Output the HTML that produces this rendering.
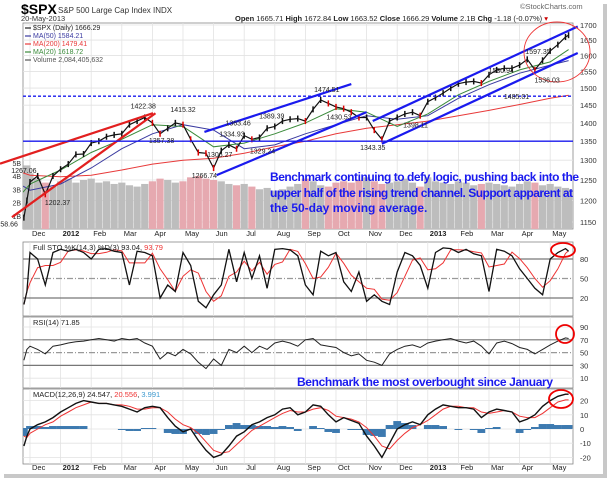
<!DOCTYPE html>
<html><head><meta charset="utf-8"><style>
body{margin:0;background:#fff;}
svg{display:block;font-family:"Liberation Sans",Arial,sans-serif;}
</style></head><body>
<svg id="c" width="609" height="479" viewBox="0 0 609 479" xmlns="http://www.w3.org/2000/svg">
<rect x="0" y="0" width="609" height="479" fill="#fff"/>
<rect x="603" y="4" width="4" height="473" fill="#c8c8c8"/>
<rect x="4" y="474" width="603" height="4" fill="#c8c8c8"/>
<text x="21" y="14" font-size="14" font-weight="bold">$SPX</text>
<text x="58" y="13" font-size="8" fill="#333">S&amp;P 500 Large Cap Index INDX</text>
<text x="21" y="21" font-size="7.5" fill="#333">20-May-2013</text>
<text x="520" y="9" font-size="7.5" fill="#666">©StockCharts.com</text>
<text x="235" y="21" font-size="7.5" fill="#222"><tspan font-weight="bold">Open</tspan> 1665.71 <tspan font-weight="bold">High</tspan> 1672.84 <tspan font-weight="bold">Low</tspan> 1663.52 <tspan font-weight="bold">Close</tspan> 1666.29 <tspan font-weight="bold">Volume</tspan> 2.1B <tspan font-weight="bold">Chg</tspan> -1.18 (-0.07%) <tspan fill="#c00">▾</tspan></text>
<g id="panels"></g>
</svg>
<script>
const tPts=[-0.2,-0.1,0,0.25,0.5,0.75,1,1.25,1.5,1.75,2,2.25,2.5,2.75,3,3.25,3.5,3.75,4,4.25,4.5,4.75,5,5.25,5.5,5.75,6,6.25,6.5,6.75,7,7.25,7.5,7.75,8,8.25,8.5,8.75,9,9.25,9.5,9.75,10,10.25,10.5,10.75,11,11.25,11.5,11.75,12,12.25,12.5,12.75,13,13.25,13.5,13.75,14,14.25,14.5,14.75,15,15.25,15.5,15.75,16,16.25,16.5,16.75,17,17.25,17.5,17.6];
const price=[1160,1200,1245,1260,1215,1260,1277,1290,1315,1316,1345,1350,1362,1367,1370,1395,1405,1415,1400,1370,1385,1400,1395,1355,1320,1318,1280,1325,1340,1330,1365,1355,1360,1385,1390,1405,1410,1412,1405,1438,1465,1455,1445,1440,1430,1415,1415,1380,1355,1405,1415,1425,1430,1420,1460,1472,1485,1500,1513,1518,1520,1515,1540,1555,1560,1560,1570,1588,1555,1585,1615,1635,1660,1666];
const volume=[4.5,4.8,4.2,3.8,3.5,3.2,3.6,3.8,3.5,3.7,3.8,3.5,3.6,3.4,3.5,3.3,3.2,3.4,3.6,3.8,3.7,3.5,3.6,3.9,4.0,3.8,3.7,3.6,3.4,3.3,3.4,3.2,3.0,3.1,2.9,3.0,3.2,3.4,3.8,3.6,3.3,3.2,3.5,3.6,3.5,3.7,3.9,3.6,3.4,3.5,3.6,3.8,3.5,3.2,3.9,3.6,3.5,3.4,3.6,3.5,3.3,3.4,3.5,3.4,3.3,3.2,3.4,3.6,3.5,3.3,3.4,3.2,3.1,3.0];
const maT=[-0.23,0,1,2,3,4,5,6,7,8,9,10,11,12,13,14,15,16,17,17.6];
const ma200=[1268,1262,1258,1262,1275,1290,1300,1305,1318,1335,1350,1370,1385,1395,1405,1420,1435,1452,1470,1479];
const ma50=[1235,1225,1240,1280,1330,1370,1395,1380,1330,1340,1370,1395,1420,1410,1420,1470,1510,1545,1570,1584];
const ma20=[1220,1240,1275,1320,1355,1395,1390,1335,1345,1370,1400,1440,1430,1390,1425,1480,1520,1555,1580,1619];
const stoK=[10,30,90,80,40,90,95,92,95,90,80,95,96,92,90,40,92,90,85,20,40,30,90,70,15,5,25,40,95,45,90,50,85,35,95,96,94,85,40,25,92,85,90,45,30,60,15,25,15,10,60,90,85,70,35,90,97,96,90,95,88,85,30,95,92,85,65,50,35,25,80,90,96,92];
const rsi=[38,55,60,55,48,60,62,65,67,68,70,72,70,68,72,70,72,65,60,40,50,45,55,48,35,25,40,30,55,50,60,50,60,55,65,68,65,60,70,72,62,60,58,50,45,48,38,35,30,48,55,60,62,58,65,68,70,72,68,65,68,60,48,65,68,64,58,55,48,55,62,68,73,72];
const macd=[-12,-5,0,3,5,8,12,15,18,20,19,18,18,17,16,14,12,15,16,15,8,2,-2,0,-8,-15,-20,-18,-12,-5,-2,3,5,8,10,14,15,10,12,17,16,10,5,8,6,4,-5,-12,-20,-10,0,3,5,3,10,14,17,16,15,15,14,8,12,14,13,12,5,7,10,16,20,23,24.5,24.5];
const signal=[-5,-6,-3,0,3,5,9,12,15,17,19,18,18,17,17,16,14,14,15,15,12,7,3,1,-3,-9,-15,-17,-16,-11,-6,-1,2,5,8,11,13,12,12,14,15,13,9,8,7,5,1,-5,-12,-14,-8,-3,1,3,6,10,14,16,16,15,15,12,11,12,13,12,9,8,8,11,15,19,20.5,20.5];
const months=["Dec","2012","Feb","Mar","Apr","May","Jun","Jul","Aug","Sep","Oct","Nov","Dec","2013","Feb","Mar","Apr","May"];
const priceTicks=[1150,1200,1250,1300,1350,1400,1450,1500,1550,1600,1650,1700];
const volTicks=[1,2,3,4,5];
const stoTicks=[20,50,80];
const rsiTicks=[10,30,50,70,90];
const macdTicks=[-20,-10,0,10,20];

const NS="http://www.w3.org/2000/svg";
const root=document.getElementById('panels');
function el(tag,attrs,parent){const e=document.createElementNS(NS,tag);for(const k in attrs)e.setAttribute(k,attrs[k]);(parent||root).appendChild(e);return e;}
const L=23,R=573;
const X=t=>30+t*30.6;
const Yp=p=>25+(Math.log(1700)-Math.log(p))*504;
const Yv=v=>229-v*13.25;
const Ys=v=>311-v*0.65;
const Yr=v=>327+(90-v)*0.64;
const Ym=v=>429-v*1.42;
const panels=[[23,229],[242,316],[317,388],[389,464]];
panels.forEach((p,i)=>{
 const r=el('rect',{x:L,y:p[0],width:R-L,height:p[1]-p[0],fill:'#fff',stroke:'#888','stroke-width':0.8});
 
 
 for(let m=0;m<months.length;m++){
  const g=el('line',{x1:X(m),x2:X(m),y1:p[0],y2:p[1],stroke:'#e2e2e2','stroke-width':0.8});
  
  
 }
});
function clip(id,p){const c=el('clipPath',{id:id});el('rect',{x:L,y:p[0],width:R-L,height:p[1]-p[0]},c);}
clip('cp0',panels[0]);clip('cp1',panels[1]);clip('cp2',panels[2]);clip('cp3',panels[3]);
function hgrid(ticks,Y,fmt,p,strong){ticks.forEach(v=>{
 const g=el('line',{x1:L,x2:R,y1:Y(v),y2:Y(v),stroke:strong&&strong(v)?strong(v):'#e2e2e2','stroke-width':strong&&strong(v)?1.2:0.8,'stroke-dasharray':(strong&&strong(v)==='#999')?'6,2,1,2':'none'});
 
 
 const t=el('text',{x:R+7,y:Y(v)+3,'font-size':7.5,fill:'#333'});t.textContent=fmt(v);
 
 
});}
hgrid(priceTicks,Yp,v=>v,panels[0]);
hgrid(stoTicks,Ys,v=>v,panels[1],v=>v===50?'#999':'#777');
hgrid(rsiTicks,Yr,v=>v,panels[2],v=>v===50?'#999':(v===30||v===70?'#777':null));
hgrid(macdTicks,Ym,v=>v,panels[3]);
volTicks.forEach(v=>{const t=el('text',{x:L-2,y:Yv(v)+3,'font-size':7,fill:'#333','text-anchor':'end'});t.textContent=v+'B';
 
 });
[236,470].forEach(yy=>months.forEach((m,i)=>{const t=el('text',{x:X(i)+2,y:yy,'font-size':7.5,fill:'#222','font-weight':(m.length===4?'bold':'normal')});t.textContent=m;
 
 }));
const g0=el('g',{'clip-path':'url(#cp0)'});
const n=Math.min(tPts.length,price.length,volume.length);
for(let i=0;i<n;i++){
 const down=i>0&&price[i]<price[i-1];
 const b=el('rect',{x:X(tPts[i])-3.6,y:Yv(volume[i]),width:7.2,height:229-Yv(volume[i]),fill:down?'#e6a9b0':'#bdbdbd'},g0);
 
 
}
function line(ts,vs,Y,color,w,parent,name){const pts=ts.map((t,i)=>X(t).toFixed(1)+','+Y(vs[i]).toFixed(1)).join(' ');const l=el('polyline',{points:pts,fill:'none',stroke:color,'stroke-width':w},parent);
 
 return l;}
line(maT,ma200,Yp,'#e83a3a',1,g0,'ma200-line');
line(maT,ma50,Yp,'#3a3aa0',1,g0,'ma50-line');
line(maT,ma20,Yp,'#3a8a3a',1,g0,'ma20-line');
line(tPts.slice(0,n),price.slice(0,n),Yp,'#111',1.2,g0,'price-line');
for(let i=0;i<n;i++){const c=el('line',{x1:X(tPts[i]),x2:X(tPts[i]),y1:Yp(price[i]*1.006),y2:Yp(price[i]*0.994),stroke:(i>0&&price[i]<price[i-1])?'#d00':'#111','stroke-width':1.5},g0);
 
 }
const trend=[[-0.98,1291,4.02,1427,'#e21f1f'],[-0.59,1161,4.1,1427,'#e21f1f'],[5.7,1375,10.5,1512,'#1a1aee'],[6.1,1262,11.0,1430,'#1a1aee'],[11.2,1405,17.9,1695,'#1a1aee'],[11.5,1343,17.9,1608,'#1a1aee']];
trend.forEach(tr=>{const l=el('line',{x1:X(tr[0]),y1:Yp(tr[1]),x2:X(tr[2]),y2:Yp(tr[3]),stroke:tr[4],'stroke-width':2.2});
 
 });
const h1=el('line',{x1:L,x2:R,y1:Yp(1350),y2:Yp(1350),stroke:'#1a1aee','stroke-width':1.3});


const h2=el('line',{x1:L,x2:R,y1:Yp(1476),y2:Yp(1476),stroke:'#1a1aee','stroke-width':1.3,'stroke-dasharray':'3,2'});


const circ=el('ellipse',{cx:557,cy:52,rx:33,ry:30,fill:'none',stroke:'#e33','stroke-width':0.9});


const ann=[[1267.06,-0.2,1267],[1202.37,0.9,1190],[1158.66,-0.8,1140],[1422.38,3.7,1440],[1415.32,5.0,1430],[1357.38,4.3,1345],[1363.46,6.8,1392],[1334.93,6.6,1362],[1306.27,6.2,1308],[1266.74,5.7,1255],[1329.24,7.6,1318],[1389.39,7.9,1412],[1474.51,9.7,1488],[1430.53,10.1,1410],[1343.35,11.2,1327],[1398.11,12.6,1387],[1530.94,15.4,1546],[1485.01,15.9,1468],[1597.35,16.6,1605],[1536.03,16.9,1517]];
ann.forEach(a=>{const t=el('text',{x:X(a[1]),y:Yp(a[2]),'font-size':7,fill:'#222','text-anchor':'middle'});t.textContent=a[0].toFixed(2);
 
 });
const leg=[['$SPX (Daily) 1666.29','#222'],['MA(50) 1584.21','#3a3aa0'],['MA(200) 1479.41','#e83a3a'],['MA(20) 1618.72','#3a8a3a'],['Volume 2,084,405,632','#555']];
leg.forEach((g,i)=>{const t=el('text',{x:33,y:30+i*8,'font-size':7,fill:g[1]});t.textContent=g[0];
 
 
 const s=el('line',{x1:25,x2:31,y1:28+i*8,y2:28+i*8,stroke:g[1],'stroke-width':1.2});
 
 });
const txt=[['Benchmark continuing to defy logic, pushing back into the',181],['upper half of the rising trend channel. Support apparent at',197],['the 50-day moving average.',212]];
txt.forEach((s,i)=>{const t=el('text',{x:270,y:s[1],'font-size':12,fill:'#1a1aee','font-weight':'bold'});
 if(i<2)t.setAttribute('textLength',i===0?309:303);
 t.textContent=s[0];
 
 });
const g1=el('g',{'clip-path':'url(#cp1)'});
const stoD=stoK.map((v,i)=>i<2?v:(stoK[i]+stoK[i-1]+stoK[i-2])/3);
line(tPts,stoD,Ys,'#e33',1,g1,'sto-d-line');
line(tPts,stoK,Ys,'#111',1.3,g1,'sto-k-line');
let t1=el('text',{x:33,y:250,'font-size':7.5,fill:'#222'});t1.innerHTML='Full STO %K(14,3) %D(3) 93.04, <tspan fill="#e33">93.79</tspan>';


let c1=el('ellipse',{cx:563,cy:250,rx:12,ry:7,fill:'none',stroke:'#e00','stroke-width':1.8});


const g2=el('g',{'clip-path':'url(#cp2)'});
line(tPts,rsi,Yr,'#222',1,g2,'rsi-line');
let t2=el('text',{x:33,y:325,'font-size':7.5,fill:'#222'});t2.textContent='RSI(14) 71.85';


let c2=el('ellipse',{cx:565,cy:334,rx:9,ry:9,fill:'none',stroke:'#e00','stroke-width':1.8});


let t3=el('text',{x:297,y:386,'font-size':12,fill:'#1a1aee','font-weight':'bold',textLength:256});t3.textContent='Benchmark the most overbought since January';


const g3=el('g',{'clip-path':'url(#cp3)'});
for(let i=0;i<tPts.length;i++){const h=(macd[i]-signal[i])*0.7;const y0=Ym(0),y1=Ym(h);
 const b=el('rect',{x:X(tPts[i])-3.9,y:Math.min(y0,y1),width:7.8,height:Math.abs(y1-y0),fill:'#3d7ab0'},g3);
 
 }
line(tPts,signal.slice(0,tPts.length),Ym,'#e33',1,g3,'macd-signal-line');
line(tPts,macd.slice(0,tPts.length),Ym,'#111',1.4,g3,'macd-line');
let t4=el('text',{x:33,y:397,'font-size':7.5,fill:'#222'});t4.innerHTML='MACD(12,26,9) 24.547, <tspan fill="#e33">20.556</tspan>, <tspan fill="#3d9ad0">3.991</tspan>';


let c4=el('ellipse',{cx:561,cy:399,rx:12,ry:9,fill:'none',stroke:'#e00','stroke-width':1.8});


</script>
</body></html>
